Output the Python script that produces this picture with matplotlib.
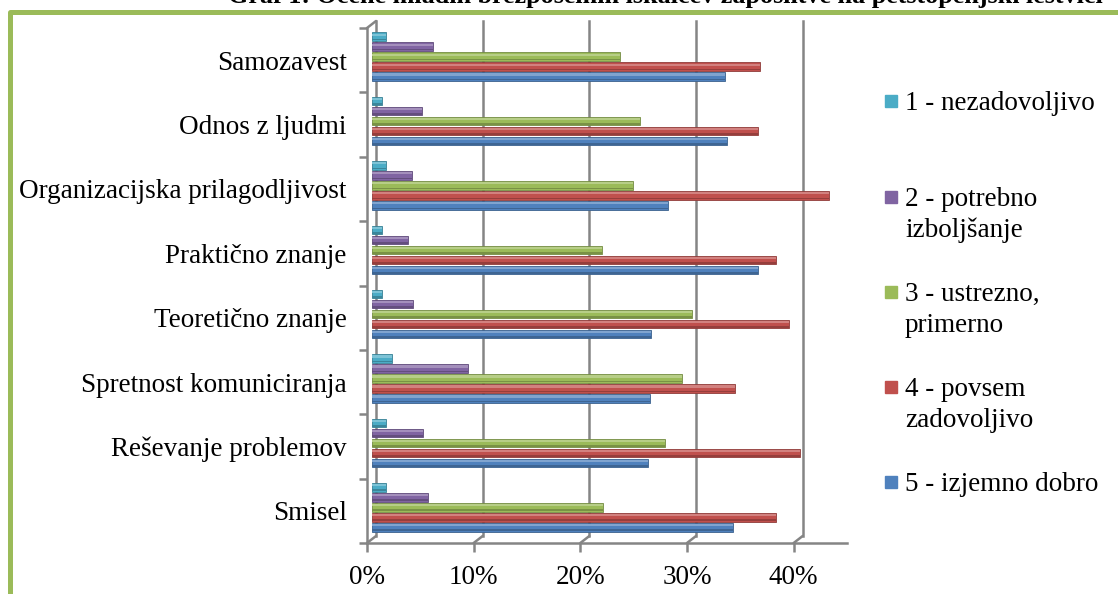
import matplotlib
matplotlib.use("Agg")
import matplotlib.pyplot as plt
import matplotlib.transforms as mtransforms
from matplotlib.lines import Line2D
from matplotlib.patches import Rectangle
import numpy as np

# ---- data -------------------------------------------------------------
categories = [
    "Smisel",
    "Reševanje problemov",
    "Spretnost komuniciranja",
    "Teoretično znanje",
    "Praktično znanje",
    "Organizacijska prilagodljivost",
    "Odnos z ljudmi",
    "Samozavest",
]
series_labels = [
    "1 - nezadovoljivo",
    "2 - potrebno\nizboljšanje",
    "3 - ustrezno,\nprimerno",
    "4 - povsem\nzadovoljivo",
    "5 - izjemno dobro",
]
# percentages, one list per rating, in the order of `categories`
ocena_1 = [1.4, 1.4, 1.9, 1.0, 1.0, 1.4, 1.0, 1.4]
ocena_2 = [5.3, 4.8, 9.0, 3.9, 3.4, 3.8, 4.7, 5.8]
ocena_3 = [21.7, 27.5, 29.1, 30.0, 21.6, 24.5, 25.2, 23.3]
ocena_4 = [37.9, 40.2, 34.1, 39.1, 37.9, 42.9, 36.2, 36.4]
ocena_5 = [33.9, 25.9, 26.1, 26.2, 36.2, 27.8, 33.3, 33.1]
xticks = [0, 10, 20, 30, 40]
xtick_labels = ["0%", "10%", "20%", "30%", "40%"]
title = "Graf 1: Ocene mladih brezposelnih iskalcev zaposlitve na petstopenjski lestvici"

colors = ["#4BACC6", "#8064A2", "#9BBB59", "#C0504D", "#4F81BD"]
series = [ocena_1, ocena_2, ocena_3, ocena_4, ocena_5]

# ---- figure -----------------------------------------------------------
W, H, DPI = 1118, 594, 100
plt.rcParams["font.family"] = ["Liberation Serif", "DejaVu Serif"]
FS = 19.5
GRAY = "#858585"

fig = plt.figure(figsize=(W / DPI, H / DPI), dpi=DPI)
fig.patch.set_facecolor("white")


def fx(px):
    return px / W


def fy(py):
    return 1 - py / H


ax = fig.add_axes([fx(367), fy(543), fx(847) - fx(367), fy(28) - fy(543)])
ax.set_xlim(0, 45)
ax.set_ylim(-0.5, len(categories) - 0.5)
ax.set_facecolor("none")

for s in ("top", "right"):
    ax.spines[s].set_visible(False)
for s in ("left", "bottom"):
    ax.spines[s].set_color(GRAY)
    ax.spines[s].set_linewidth(1.8)

# depth offset of the back wall (pixels)
DX, DY = 9 / DPI, 7 / DPI
back = ax.get_xaxis_transform() + mtransforms.ScaledTranslation(DX, DY, fig.dpi_scale_trans)

# back wall grid lines with the short diagonal to the front axis
for t in xticks[1:]:
    ax.plot([t, t], [0, 1], transform=back, color=GRAY, lw=1.8, zorder=1, clip_on=False)
    ax.annotate("", xy=(t, 0), xycoords=ax.get_xaxis_transform(),
                xytext=(DX * 72, DY * 72), textcoords="offset points",
                arrowprops=dict(arrowstyle="-", color=GRAY, lw=1.8,
                                shrinkA=0, shrinkB=0), zorder=1)
# left wall edges
ax.plot([0, 0], [0, 1], transform=back, color=GRAY, lw=1.8, zorder=1, clip_on=False)
for yy in (0, 1):
    ax.annotate("", xy=(0, yy), xycoords=ax.get_xaxis_transform(),
                xytext=(DX * 72, DY * 72), textcoords="offset points",
                arrowprops=dict(arrowstyle="-", color=GRAY, lw=1.8,
                                shrinkA=0, shrinkB=0), zorder=1)

# ---- bars -------------------------------------------------------------
bar_tr = ax.transData + mtransforms.ScaledTranslation(4.5 / DPI, 3.5 / DPI, fig.dpi_scale_trans)
y = np.arange(len(categories))
pitch = 10 / 64.4
height = 8.6 / 64.4


def shade(c, f):
    c = np.array(matplotlib.colors.to_rgb(c))
    if f > 0:
        return tuple(c + (1 - c) * f)
    return tuple(c * (1 + f))


for k, (vals, col) in enumerate(zip(series, colors)):
    yk = y + (2 - k) * pitch
    ax.barh(yk, vals, height=height, color=col, edgecolor=shade(col, -0.25),
            linewidth=0.6, transform=bar_tr, zorder=3)
    ax.barh(yk + height * 0.24, vals, height=height * 0.26, color=shade(col, 0.28),
            linewidth=0, transform=bar_tr, zorder=4)
    ax.barh(yk - height * 0.34, vals, height=height * 0.18, color=shade(col, -0.22),
            linewidth=0, transform=bar_tr, zorder=4)

# ---- ticks ------------------------------------------------------------
ax.set_xticks(xticks)
ax.set_xticklabels(xtick_labels, fontsize=FS)
ax.tick_params(axis="x", direction="out", length=6.5, width=1.8, color=GRAY, pad=9)

ax.set_yticks(y)
ax.set_yticklabels(categories, fontsize=FS)
ax.tick_params(axis="y", which="major", length=0, pad=14.5)
ax.set_yticks(np.arange(len(categories) + 1) - 0.5, minor=True)
ax.tick_params(axis="y", which="minor", direction="out", length=5.8, width=1.8, color=GRAY)

# ---- legend -----------------------------------------------------------
leg_y = [101, 197, 292, 387, 482]
line_pitch = 31
for lab, col, yc in zip(series_labels, colors, leg_y):
    fig.patches.append(Rectangle((fx(885), fy(yc + 6)), fx(12), 12 / H,
                                 transform=fig.transFigure, color=col))
    for j, line in enumerate(lab.split("\n")):
        fig.text(fx(905), fy(yc + j * line_pitch + 9), line, fontsize=FS,
                 ha="left", va="baseline")

# ---- frame and title --------------------------------------------------
fig.lines.append(Line2D([fx(9.5), fx(9.5), fx(W + 20)],
                        [fy(H + 20), fy(11.5), fy(11.5)],
                        transform=fig.transFigure, color="#9BBB59", lw=3.6,
                        solid_joinstyle="round"))
fig.text(fx(665), fy(3.5), title, fontsize=18.8, fontweight="bold",
         ha="center", va="baseline")

fig.savefig("out.png", dpi=DPI)
